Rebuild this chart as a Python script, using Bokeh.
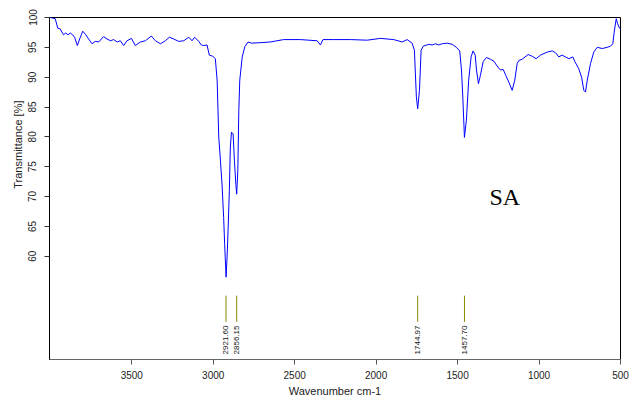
import math
from bokeh.plotting import figure
from bokeh.models import Range1d, FixedTicker, Label, ColumnDataSource, Title
from bokeh.core.properties import value
from bokeh.embed import file_html
from bokeh.resources import INLINE

# FT-IR spectrum of SA (wavenumber cm-1, transmittance %)
wavenumber = [4000, 3970, 3954, 3940, 3919, 3905, 3891, 3877, 3863, 3851, 3834, 3820,
              3801, 3785, 3765, 3744, 3724, 3703, 3673, 3652, 3631, 3611, 3590, 3570,
              3550, 3529, 3502, 3478, 3447, 3417, 3380, 3355, 3324, 3294, 3269, 3243,
              3212, 3181, 3150, 3130, 3114, 3089, 3073, 3058, 3038, 3024, 3003, 2987,
              2976, 2966, 2956, 2946, 2936, 2930, 2921, 2915, 2909, 2901, 2895, 2888,
              2878, 2870, 2861, 2856, 2849, 2843, 2837, 2822, 2806, 2786, 2766, 2700,
              2649, 2568, 2465, 2362, 2342, 2326, 2260, 2158, 2055, 1974, 1892, 1840,
              1810, 1779, 1765, 1753, 1745, 1734, 1724, 1711, 1677, 1656, 1636, 1616,
              1595, 1564, 1533, 1507, 1487, 1476, 1468, 1458, 1446, 1432, 1417, 1405,
              1392, 1384, 1372, 1360, 1343, 1323, 1298, 1278, 1253, 1237, 1220, 1204,
              1186, 1165, 1149, 1134, 1124, 1104, 1067, 1042, 1018, 991, 950, 919,
              899, 879, 858, 838, 817, 793, 780, 756, 739, 725, 715, 704,
              684, 664, 643, 612, 582, 561, 547, 537, 526, 518, 506, 500]
transmittance = [100.0, 99.8, 98.2, 98.1, 97.1, 97.4, 97.1, 97.4, 97.1, 96.7, 95.3, 96.4,
                 97.7, 97.2, 96.4, 95.6, 96.0, 95.9, 96.8, 96.4, 96.1, 96.3, 95.9, 96.1,
                 95.3, 96.1, 96.5, 95.3, 95.9, 96.1, 96.9, 96.1, 95.6, 96.1, 96.7, 96.4,
                 96.0, 96.1, 96.7, 96.1, 96.7, 96.0, 95.4, 95.3, 95.4, 93.7, 93.5, 93.1,
                 89.5, 80.0, 76.1, 72.1, 66.5, 62.1, 56.5, 59.8, 64.3, 71.0, 78.3, 80.8,
                 80.5, 76.1, 72.0, 70.4, 74.4, 84.4, 89.5, 93.4, 95.1, 95.9, 95.7, 95.8,
                 95.9, 96.3, 96.3, 96.1, 95.4, 96.3, 96.3, 96.3, 96.2, 96.5, 96.3, 95.9,
                 96.3, 95.7, 94.5, 86.7, 84.7, 87.8, 94.5, 95.2, 95.5, 95.4, 95.6, 95.4,
                 95.6, 95.7, 95.5, 95.0, 94.4, 91.2, 86.7, 79.9, 82.8, 89.5, 93.4, 94.4,
                 93.7, 91.2, 88.9, 90.3, 92.6, 93.3, 93.0, 92.7, 91.7, 91.2, 91.3, 90.3,
                 89.2, 87.8, 89.5, 92.3, 92.8, 93.0, 93.8, 93.5, 93.1, 93.7, 94.2, 94.4,
                 94.1, 93.4, 93.7, 93.4, 93.1, 93.4, 92.6, 91.4, 90.0, 87.8, 87.5, 89.5,
                 92.3, 94.2, 95.0, 94.8, 95.0, 95.2, 95.6, 97.9, 99.8, 99.0, 98.2, 98.1]

peak_positions = [2921.60, 2856.15, 1744.97, 1457.70]
peak_labels = ["2921.60", "2856.15", "1744.97", "1457.70"]

x_ticks = [3500, 3000, 2500, 2000, 1500, 1000, 500]
y_ticks = [60, 65, 70, 75, 80, 85, 90, 95, 100]

FONT = "Liberation Sans"

p = figure(width=630, height=403, output_backend="svg", toolbar_location=None,
           x_range=Range1d(4005, 500), y_range=Range1d(42.7, 100))
p.min_border_left = 49
p.min_border_right = 10
p.min_border_top = 17
p.min_border_bottom = 44
p.background_fill_color = "white"
p.border_fill_color = "white"
p.outline_line_color = "black"
p.outline_line_width = 1
p.xgrid.grid_line_color = None
p.ygrid.grid_line_color = None

p.line(wavenumber, transmittance, line_color="blue", line_width=1)

# peak markers
seg_top, seg_bot, lab_top = 53.4, 49.0, 48.4
src = ColumnDataSource(dict(x=peak_positions, lab=peak_labels,
                            y0=[seg_top] * 4, y1=[seg_bot] * 4, yl=[lab_top] * 4))
p.segment(x0="x", y0="y0", x1="x", y1="y1", source=src, line_color="#8B8B00", line_width=1)
p.text(x="x", y="yl", text="lab", source=src, angle=math.pi / 2, text_align="right",
       text_baseline="middle", text_font=value(FONT), text_font_size="8px", text_color="#111111")

# axes
xa = p.xaxis[0]
xa.ticker = FixedTicker(ticks=x_ticks)
xa.minor_tick_line_color = None
xa.major_tick_in = 0
xa.major_tick_out = 5
xa.axis_line_color = "#666666"
xa.major_tick_line_color = "#555555"
xa.major_label_text_font = FONT
xa.major_label_text_font_size = "10px"
xa.major_label_text_color = "#222222"
xa.major_label_standoff = 6
xa.axis_label = "Wavenumber cm-1"
xa.axis_label_text_font = FONT
xa.axis_label_text_font_size = "11px"
xa.axis_label_text_font_style = "normal"
xa.axis_label_text_color = "#222222"
xa.axis_label_standoff = 3

ya = p.yaxis[0]
ya.ticker = FixedTicker(ticks=y_ticks)
ya.minor_tick_line_color = None
ya.major_tick_in = 0
ya.major_tick_out = 5
ya.axis_line_color = "black"
ya.major_tick_line_color = "#333333"
ya.major_label_text_font = FONT
ya.major_label_text_font_size = "10px"
ya.major_label_text_color = "#222222"
ya.major_label_orientation = "vertical"
ya.major_label_standoff = 8

p.add_layout(Title(text="Transmittance [%]", align="right", offset=83, standoff=4,
                   text_font=FONT, text_font_size="11px", text_font_style="normal",
                   text_color="#222222"), "left")

p.add_layout(Label(x=1304, y=70.0, text="SA", text_align="left", text_baseline="alphabetic",
                   text_font="Liberation Serif", text_font_size="24px", text_color="black"))

open("out.html", "w").write(file_html(p, INLINE))
